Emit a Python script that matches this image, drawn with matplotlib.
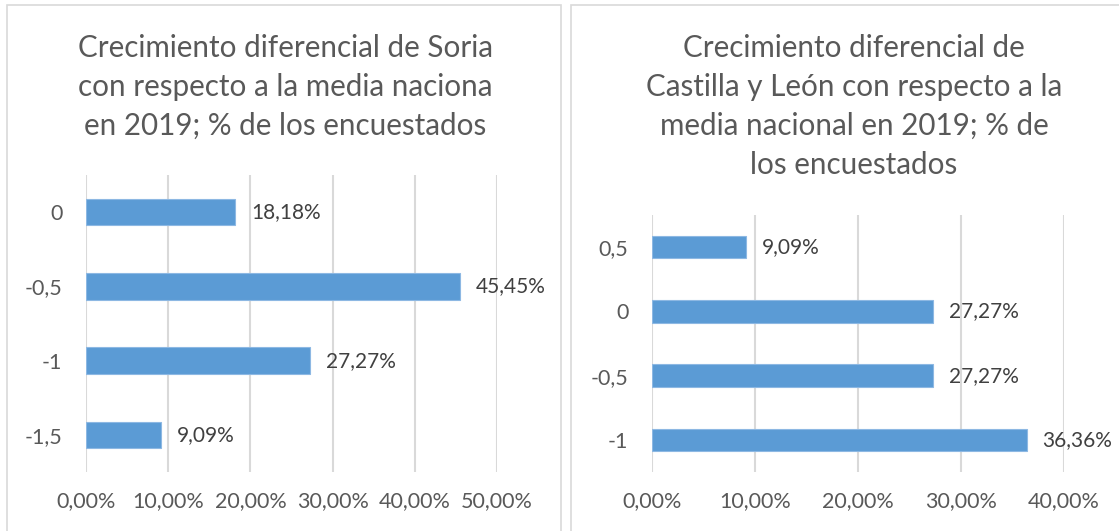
import matplotlib
matplotlib.use("Agg")
import matplotlib.pyplot as plt
from matplotlib.patches import Rectangle
from matplotlib.ticker import FuncFormatter

plt.rcParams['font.family'] = ['Lato', 'DejaVu Sans']

# data
soria_cats = ["0", "-0,5", "-1", "-1,5"]
soria_vals = [18.18, 45.45, 27.27, 9.09]
cyl_cats = ["0,5", "0", "-0,5", "-1"]
cyl_vals = [9.09, 27.27, 27.27, 36.36]

soria_title = ["Crecimiento diferencial de Soria",
               "con respecto a la media naciona",
               "en 2019; % de los encuestados"]
cyl_title = ["Crecimiento diferencial de",
             "Castilla y León con respecto a la",
             "media nacional en 2019; % de",
             "los encuestados"]

BAR = "#5B9BD5"
TXT = "#595959"
LBL = "#404040"
GRID = "#D9D9D9"

W, H = 1119, 531
fig = plt.figure(figsize=(W / 100, H / 100), dpi=100)


def px_axes(x0, x1, y0, y1):
    # pixel box (top-left origin) -> figure axes
    return fig.add_axes([x0 / W, 1 - y1 / H, (x1 - x0) / W, (y1 - y0) / H])


def panel(x0, x1):
    fig.patches.append(Rectangle((x0 / W, -0.01), (x1 - x0) / W, 1 - 5 / H + 0.01,
                                 transform=fig.transFigure, fill=False,
                                 edgecolor=GRID, linewidth=1.2))


def bar_chart(ax, cats, vals, xmax, bar_h):
    pos = list(range(len(cats)))[::-1]
    ax.barh(pos, vals, height=bar_h, color=BAR, edgecolor="#8DB8E3", linewidth=0.8, zorder=3)
    for p, v in zip(pos, vals):
        ax.annotate(f"{v:.2f}%".replace(".", ","), (v, p), xytext=(11.5, 0),
                    textcoords="offset points", va="center", ha="left",
                    fontsize=15, color=LBL)
    ax.set_xlim(0, xmax)
    ax.set_ylim(-0.5, len(cats) - 0.5)
    ax.set_xticks(range(0, xmax + 1, 10))
    ax.xaxis.set_major_formatter(FuncFormatter(lambda x, _: f"{x:.2f}%".replace(".", ",")))
    ax.set_yticks(pos)
    ax.set_yticklabels(cats)
    ax.grid(axis="x", color=GRID, linewidth=1.5, zorder=0)
    for s in ax.spines.values():
        s.set_visible(False)
    ax.tick_params(length=0, labelsize=15.5, colors=TXT)
    ax.tick_params(axis="y", pad=17)
    ax.tick_params(axis="x", pad=14)


panel(7, 561)
panel(571, 1140)

ax1 = px_axes(86, 497, 175, 472)
bar_chart(ax1, soria_cats, soria_vals, 50, 0.36)

ax2 = px_axes(652, 1064, 215, 472)
bar_chart(ax2, cyl_cats, cyl_vals, 40, 0.35)

for i, line in enumerate(soria_title):
    fig.text(285 / W, 1 - (48 + 39 * i) / H, line, ha="center", va="center",
             fontsize=21.3, color=TXT)
for i, line in enumerate(cyl_title):
    fig.text(854 / W, 1 - (48 + 39 * i) / H, line, ha="center", va="center",
             fontsize=21.3, color=TXT)

fig.savefig("out.png", dpi=100)
